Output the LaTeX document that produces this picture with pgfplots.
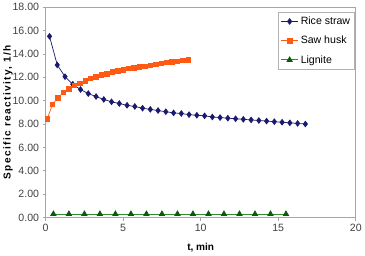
\documentclass[border=0pt]{standalone}
\usepackage{pgfplots}
\pgfplotsset{compat=1.18}
\usepackage{fontspec}
\setmainfont{Liberation Sans}
\newfontfamily\lsfont[LetterSpace=14]{Liberation Sans}
\definecolor{rice}{HTML}{1A1A6E}
\definecolor{saw}{HTML}{FF5A14}
\definecolor{lig}{HTML}{0A5C0A}
\definecolor{ligline}{HTML}{2E8B2E}
\begin{document}
\begin{tikzpicture}
\begin{axis}[
  scale only axis,
  width=308pt, height=209pt,
  xmin=0, xmax=20, ymin=0, ymax=18,
  xtick={0,5,10,15,20},
  ytick={0,2,4,6,8,10,12,14,16,18},
  /pgf/number format/assume math mode=true,
  yticklabel style={/pgf/number format/.cd,fixed,fixed zerofill,precision=2},
  ticklabel style={font=\fontsize{10.5}{11}\selectfont, color=black!75},
  axis line style={gray!70, line width=0.8pt},
  tick style={gray!70, line width=0.6pt},
  tick align=outside,
  major tick length=3pt,
  xtick pos=bottom, ytick pos=left,
  xlabel={\textbf{t, min}},
  ylabel={\lsfont\bfseries Specific reactivity, 1/h},
  label style={font=\fontsize{10}{11}\selectfont},
  xlabel style={yshift=-5pt},
  ylabel style={yshift=-7pt},
  legend style={at={(0.997,0.976)}, anchor=north east, draw=gray!60, fill=white,
    font=\fontsize{10.5}{12}\selectfont, inner sep=2.5pt, row sep=6pt, cells={anchor=west}},
  legend cell align=left,
]
\addplot[rice, line width=0.7pt, mark=diamond*, mark size=2.8pt, mark options={fill=rice}] coordinates {
(0.25,15.5) (0.75,13.05) (1.25,12.05) (1.75,11.4) (2.25,10.95) (2.75,10.6) (3.25,10.35) (3.75,10.1)
(4.25,9.9) (4.75,9.75) (5.25,9.6) (5.75,9.5) (6.25,9.35) (6.75,9.25) (7.25,9.15) (7.75,9.05)
(8.25,8.95) (8.75,8.9) (9.25,8.8) (9.75,8.75) (10.25,8.7) (10.75,8.6) (11.25,8.55) (11.75,8.5)
(12.25,8.45) (12.75,8.4) (13.25,8.35) (13.75,8.3) (14.25,8.25) (14.75,8.2) (15.25,8.15) (15.75,8.1)
(16.25,8.05) (16.75,8.0)};
\addlegendentry{Rice straw}
\addplot[saw, line width=0.7pt, mark=square*, mark size=2.2pt, mark options={fill=saw}] coordinates {
(0.10,8.45) (0.45,9.7) (0.80,10.25) (1.15,10.7) (1.50,11.0) (1.85,11.3) (2.20,11.5) (2.55,11.7)
(2.90,11.9) (3.25,12.05) (3.60,12.2) (3.95,12.3) (4.30,12.45) (4.65,12.55) (5.00,12.65) (5.35,12.75)
(5.70,12.8) (6.05,12.9) (6.40,12.95) (6.75,13.0) (7.10,13.1) (7.45,13.2) (7.80,13.25) (8.15,13.3)
(8.50,13.35) (8.85,13.45) (9.20,13.5)};
\addlegendentry{Saw husk}
\addplot[ligline, line width=1pt, mark=triangle*, mark size=2.8pt, mark options={fill=lig, draw=lig}] coordinates {
(0.5,0.3) (1.5,0.3) (2.5,0.3) (3.5,0.3) (4.5,0.3) (5.5,0.3) (6.5,0.3) (7.5,0.3)
(8.5,0.3) (9.5,0.3) (10.5,0.3) (11.5,0.3) (12.5,0.3) (13.5,0.3) (14.5,0.3) (15.5,0.3)};
\addlegendentry{Lignite}
\end{axis}
\end{tikzpicture}
\end{document}
